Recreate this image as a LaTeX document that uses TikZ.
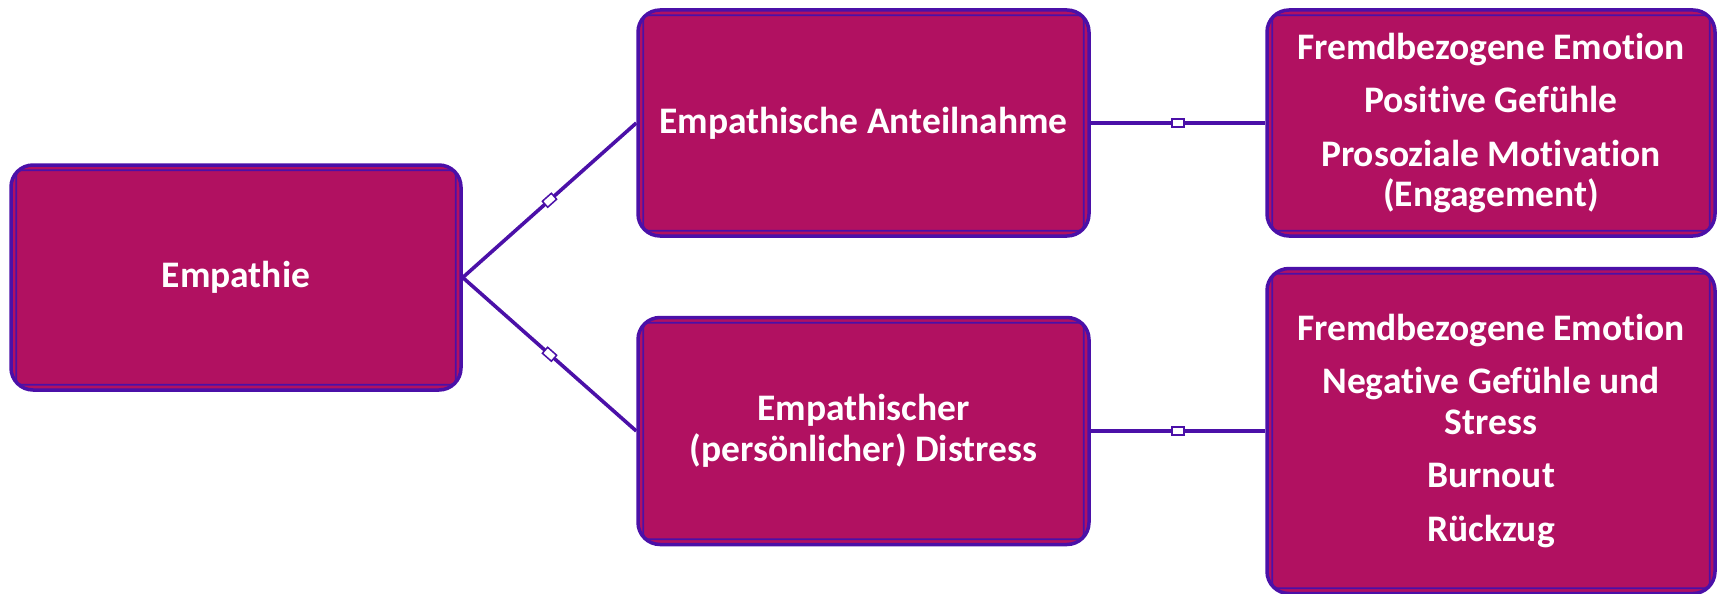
\documentclass[tikz,border=0pt]{standalone}
\usepackage{fontspec}
\setmainfont[Ligatures=NoCommon]{Carlito}
\definecolor{boxfill}{RGB}{177,17,97}
\definecolor{edgepurple}{RGB}{75,16,168}
\begin{document}
\begin{tikzpicture}[x=1pt,y=-1pt,
  box/.style={draw=edgepurple, line width=3.5pt, fill=boxfill, rounded corners=22pt,
    inner sep=0pt, align=center, text=white, font=\fontsize{37.5}{40.5}\selectfont\bfseries},
  innerline/.style={draw=edgepurple, line width=1.8pt, rounded corners=5pt},
  link/.style={draw=edgepurple, line width=3.6pt},
  marker/.style={draw=edgepurple, fill=white, line width=1.5pt, minimum width=12pt,
    minimum height=8pt, inner sep=0pt}]
\useasboundingbox (0,0) rectangle (1721,594);

\node[box, minimum width=450pt, minimum height=225pt] (b1) at (236,277.5) {Empathie};
\node[box, minimum width=451pt, minimum height=226pt] (b2) at (863.5,123) {Empathische Anteilnahme};
\node[box, minimum width=451pt, minimum height=227pt] (b3) at (863.5,431) {Empathischer\\(persönlicher) Distress};
\node[box, minimum width=448pt, minimum height=226pt] (b4) at (1491,123)
  {Fremdbezogene Emotion\\[13pt]Positive Gefühle\\[13pt]Prosoziale Motivation\\(Engagement)};
\node[box, minimum width=448pt, minimum height=325pt] (b5) at (1491,431)
  {Fremdbezogene Emotion\\[13pt]Negative Gefühle und\\Stress\\[13pt]Burnout\\[13pt]Rückzug};

\foreach \n in {b1,b2,b3,b4,b5}{
  \draw[innerline] ([xshift=7pt,yshift=-7pt]\n.north west) rectangle ([xshift=-7pt,yshift=7pt]\n.south east);
}

\draw[link] (b1.east) -- node[marker, sloped, pos=0.5]{} (b2.west);
\draw[link] (b1.east) -- node[marker, sloped, pos=0.5]{} (b3.west);
\draw[link] (b2.east) -- node[marker, pos=0.5]{} (b4.west);
\draw[link] (b3.east) -- node[marker, pos=0.5]{} (b5.west);
\end{tikzpicture}
\end{document}
